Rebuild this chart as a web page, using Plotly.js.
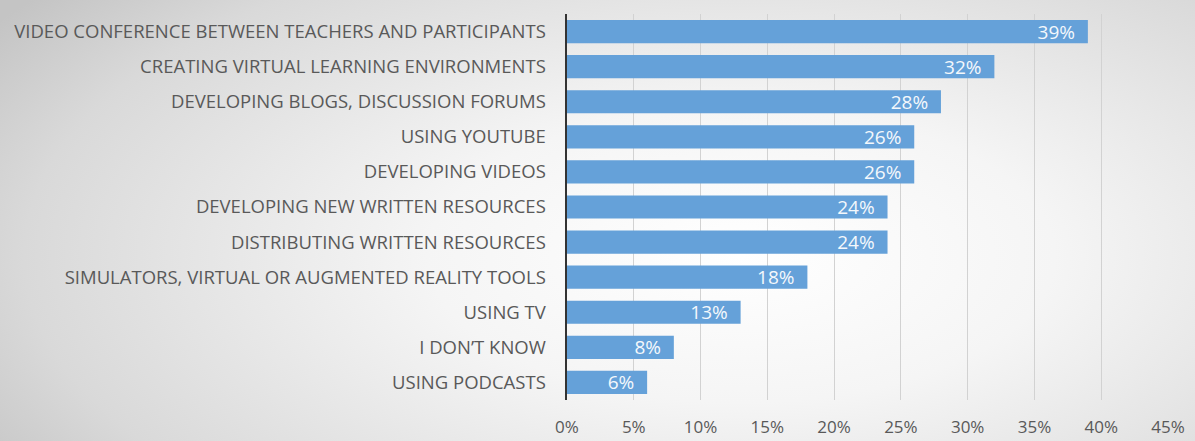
<!DOCTYPE html>
<html>
<head>
<meta charset="utf-8">
<script src="https://cdn.plot.ly/plotly-3.0.1.min.js"></script>
<style>
  html, body { margin: 0; padding: 0; }
  body {
    width: 1195px; height: 441px; overflow: hidden;
    background: radial-gradient(ellipse 75% 95% at 62% 58%, #ffffff 0%, #f5f5f5 35%, #d9d9d9 80%, #c4c4c4 100%);
  }
  #chart { width: 1195px; height: 441px; }
</style>
</head>
<body>
<div id="chart"></div>
<script>
const categories = [
  "VIDEO CONFERENCE BETWEEN TEACHERS AND PARTICIPANTS",
  "CREATING VIRTUAL LEARNING ENVIRONMENTS",
  "DEVELOPING BLOGS, DISCUSSION FORUMS",
  "USING YOUTUBE",
  "DEVELOPING VIDEOS",
  "DEVELOPING NEW WRITTEN RESOURCES",
  "DISTRIBUTING WRITTEN RESOURCES",
  "SIMULATORS, VIRTUAL OR AUGMENTED REALITY TOOLS",
  "USING TV",
  "I DON\u2019T KNOW",
  "USING PODCASTS"
];
const values = [39, 32, 28, 26, 26, 24, 24, 18, 13, 8, 6];
const labels = values.map(v => v + "%\u00a0\u00a0");
const tickValues = [0, 5, 10, 15, 20, 25, 30, 35, 40, 45];
const tickLabels = tickValues.map(v => v + "%");

const trace = {
  type: "bar",
  orientation: "h",
  y: categories,
  x: values,
  text: labels,
  textposition: "inside",
  insidetextanchor: "end",
  textangle: 0,
  constraintext: "none",
  textfont: { family: "Open Sans, sans-serif", size: 19, color: "#f4f8fc" },
  marker: { color: "#65a1d9", line: { width: 0 } },
  hoverinfo: "none"
};

const layout = {
  width: 1195, height: 441,
  margin: { l: 567, r: 27, t: 14, b: 41 },
  paper_bgcolor: "rgba(0,0,0,0)",
  plot_bgcolor: "rgba(0,0,0,0)",
  bargap: 0.34,
  showlegend: false,
  font: { family: "Open Sans, sans-serif", color: "#595959" },
  xaxis: {
    range: [0, 45],
    tickvals: tickValues,
    ticktext: tickLabels,
    showgrid: true,
    gridcolor: "#d2d2d2",
    gridwidth: 1,
    zeroline: false,
    showline: false,
    ticks: "outside",
    ticklen: 12,
    tickcolor: "rgba(0,0,0,0)",
    tickfont: { family: "Open Sans, sans-serif", size: 17, color: "#595959" },
    fixedrange: true
  },
  yaxis: {
    autorange: "reversed",
    showgrid: false,
    zeroline: false,
    showline: true,
    linecolor: "#333333",
    linewidth: 2.5,
    ticks: "outside",
    ticklen: 15,
    tickcolor: "rgba(0,0,0,0)",
    tickfont: { family: "Open Sans, sans-serif", size: 18.5, color: "#595959" },
    fixedrange: true
  }
};

Plotly.newPlot("chart", [trace], layout, { staticPlot: true, displayModeBar: false });
</script>
</body>
</html>
